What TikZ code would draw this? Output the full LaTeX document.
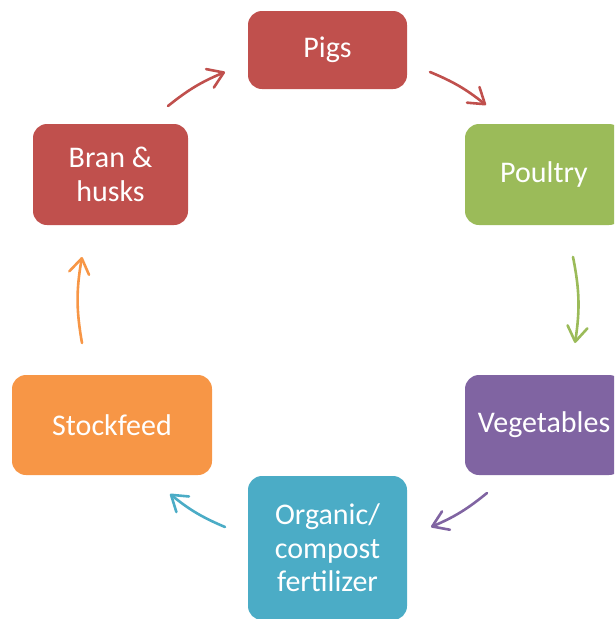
\documentclass[tikz,border=0pt]{standalone}
\usepackage{fontspec}
\setmainfont{Carlito}
\usetikzlibrary{arrows.meta}
\definecolor{cred}{HTML}{C0504D}
\definecolor{cgreen}{HTML}{9BBB59}
\definecolor{cpurple}{HTML}{8064A2}
\definecolor{cblue}{HTML}{4BACC6}
\definecolor{corange}{HTML}{F79646}
\tikzset{
  box/.style={rectangle, rounded corners=14pt, inner sep=0pt, text=white, align=center,
    font=\fontsize{30}{33.5}\selectfont},
  cyc/.style={line width=2.6pt, line cap=round, line join=round,
    -{Straight Barb[length=15pt,width=20pt,line cap=round,line join=round]}}
}
\begin{document}
\begin{tikzpicture}[x=1pt,y=1pt]
\useasboundingbox (0,0) rectangle (614,-619);
\clip (0,0) rectangle (614,-619);
\node[box, fill=cred, minimum width=159pt, minimum height=78pt] (pigs) at (327.5,-50) {Pigs};
\node[box, fill=cgreen, minimum width=158pt, minimum height=101pt] (poultry) at (544,-174.5) {Poultry};
\node[box, fill=cpurple, minimum width=158pt, minimum height=100pt] (veg) at (544,-425) {Vegetables};
\node[box, fill=cblue, minimum width=159pt, minimum height=144pt] (org) at (327.5,-548) {Organic/\\compost\\fertilizer};
\node[box, fill=corange, minimum width=200pt, minimum height=100pt] (stock) at (112,-425) {Stockfeed};
\node[box, fill=cred, minimum width=155pt, minimum height=101pt] (bran) at (110.5,-174.5) {Bran \&\\husks};
\coordinate (a1s) at (168,-106);
\coordinate (a1e) at (225,-72);
\coordinate (a2s) at (430,-72);
\coordinate (a2e) at (486,-105);
\coordinate (a3s) at (573,-257);
\coordinate (a3e) at (575,-343);
\coordinate (a4s) at (487,-493);
\coordinate (a4e) at (431,-527);
\coordinate (a5s) at (225,-527);
\coordinate (a5e) at (170,-494);
\coordinate (a6s) at (82,-343);
\coordinate (a6e) at (82,-257);
\draw[cyc, cred] (a1s) to[bend left=8] (a1e);
\draw[cyc, cred] (a2s) to[bend left=8] (a2e);
\draw[cyc, cgreen] (a3s) to[bend left=10] (a3e);
\draw[cyc, cpurple] (a4s) to[bend left=8] (a4e);
\draw[cyc, cblue] (a5s) to[bend left=8] (a5e);
\draw[cyc, corange] (a6s) to[bend left=10] (a6e);
\end{tikzpicture}
\end{document}
